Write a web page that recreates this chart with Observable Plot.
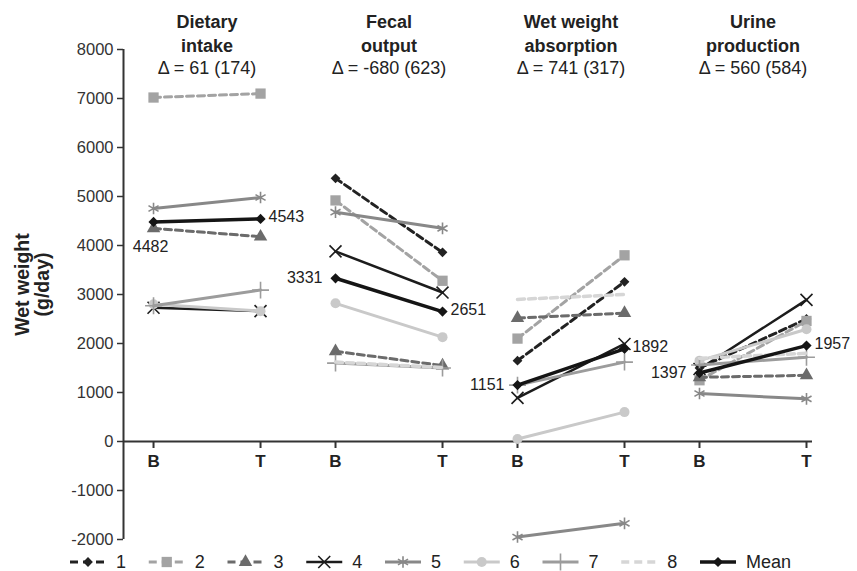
<!DOCTYPE html>
<html><head><meta charset="utf-8">
<script src="https://cdn.jsdelivr.net/npm/d3@7"></script>
<script src="https://cdn.jsdelivr.net/npm/@observablehq/plot@0.6"></script>
<style>
body{margin:0;background:#fff;font-family:"Liberation Sans",Arial,sans-serif}
#chart svg{display:block}
</style>
</head><body><div id="chart"></div>
<script>
// ---- data ----
const panels = ["Dietary intake", "Fecal output", "Wet weight absorption", "Urine production"];
const titleHeads = ["Dietary\nintake", "Fecal\noutput", "Wet weight\nabsorption", "Urine\nproduction"];
const deltaLabels = ["Δ = 61 (174)", "Δ = -680 (623)", "Δ = 741 (317)", "Δ = 560 (584)"];
const timepoints = ["B", "T"];
const seriesNames = ["1", "2", "3", "4", "5", "6", "7", "8", "Mean"];
// values: [intake B, intake T, fecal B, fecal T, absorption B, absorption T, urine B, urine T]
const series1 = [null, null, 5370, 3860, 1650, 3260, 1500, 2500];
const series2 = [7020, 7100, 4920, 3280, 2100, 3800, 1250, 2460];
const series3 = [4350, 4180, 1840, 1550, 2520, 2620, 1310, 1350];
const series4 = [2730, 2660, 3880, 3040, 890, 1990, 1480, 2890];
const series5 = [4755, 4980, 4680, 4350, -1950, -1670, 980, 870];
const series6 = [2800, 2660, 2820, 2130, 50, 600, 1650, 2290];
const series7 = [2770, 3090, 1600, 1500, 1150, 1620, 1560, 1720];
const series8 = [null, null, 1620, 1510, 2900, 3000, 1700, 1800];
const seriesMean = [4482, 4543, 3331, 2651, 1151, 1892, 1397, 1957];
const yTicks = [-2000, -1000, 0, 1000, 2000, 3000, 4000, 5000, 6000, 7000, 8000];

// ---- styles / layout ----
const styles = {
  "1":    {stroke: "#222222", width: 3,   dash: "7,4", symbol: "diamond2", filled: true,  r: 4.4},
  "2":    {stroke: "#a3a3a3", width: 3,   dash: "7,4", symbol: "square",   filled: true,  r: 5.8},
  "3":    {stroke: "#6b6b6b", width: 3,   dash: "7,4", symbol: "triangle", filled: true,  r: 5},
  "4":    {stroke: "#1c1c1c", width: 2.5, dash: null,  symbol: "times",    filled: false, r: 5.5},
  "5":    {stroke: "#888888", width: 3,   dash: null,  symbol: "asterisk", filled: false, r: 5.5},
  "6":    {stroke: "#c9c9c9", width: 3,   dash: null,  symbol: "circle",   filled: true,  r: 5},
  "7":    {stroke: "#9c9c9c", width: 3,   dash: null,  symbol: "plus",     filled: false, r: 5.5},
  "8":    {stroke: "#d6d6d6", width: 3.5, dash: "7,4", symbol: null,       filled: true,  r: 0},
  "Mean": {stroke: "#151515", width: 3.5, dash: null,  symbol: "diamond2", filled: true,  r: 4.6}
};
const SPAN = 0.588;           // distance between B and T within a panel (panel pitch = 1)
const X0 = -0.165, X1 = 3.621; // x extent of axis
const FONT = "Liberation Sans, Arial, sans-serif";

const seriesValues = [series1, series2, series3, series4, series5, series6, series7, series8, seriesMean];
const rows = [];
seriesNames.forEach((name, si) => {
  seriesValues[si].forEach((v, k) => {
    if (v == null) return;
    rows.push({series: name, panel: Math.floor(k / 2), t: timepoints[k % 2], value: v});
  });
});
const xOf = d => d.panel + (d.t === "T" ? SPAN : 0);
const xTickData = [];
panels.forEach((p, i) => timepoints.forEach(t => xTickData.push({panel: i, t})));

const marks = [];
marks.push(Plot.ruleX([X0], {y1: -2000, y2: 8000, stroke: "#333", strokeWidth: 2}));
marks.push(Plot.axisY({ticks: yTicks, tickSize: 6, tickPadding: 4, tickFormat: d => String(d),
  fontSize: 16.5, label: null, color: "#333", strokeWidth: 1.5}));
marks.push(Plot.ruleY([0], {x1: X0, x2: X1, stroke: "#333", strokeWidth: 2}));
marks.push(Plot.ruleX(xTickData, {x: xOf, y1: 0, y2: 0, insetBottom: -7, stroke: "#333", strokeWidth: 2}));
marks.push(Plot.text(xTickData, {x: xOf, y: 0, text: "t", fontWeight: "bold", fontSize: 17,
  lineAnchor: "top", dy: 13, fill: "#222"}));

// titles
marks.push(Plot.text(panels, {x: (d, i) => i + SPAN / 2, frameAnchor: "top", text: (d, i) => titleHeads[i],
  fontWeight: "bold", fontSize: 18, lineAnchor: "bottom", lineHeight: 1.28, dy: 2, fill: "#222"}));
marks.push(Plot.text(panels, {x: (d, i) => i + SPAN / 2, frameAnchor: "top", text: (d, i) => deltaLabels[i],
  fontSize: 18, lineAnchor: "bottom", dy: 24, fill: "#222"}));

// y axis title
marks.push(Plot.text(["Wet weight\n(g/day)"], {frameAnchor: "left", text: d => d, rotate: -90,
  textAnchor: "middle", lineAnchor: "middle",
  fontWeight: "bold", fontSize: 19.5, lineHeight: 1.05, dx: -91, dy: -10, fill: "#222"}));

// series
seriesNames.forEach(name => {
  const st = styles[name];
  const data = rows.filter(r => r.series === name);
  marks.push(Plot.line(data, {x: xOf, y: "value", z: "panel", stroke: st.stroke, strokeWidth: st.width,
    strokeDasharray: st.dash || undefined}));
  if (st.symbol) {
    marks.push(Plot.dot(data, {x: xOf, y: "value", symbol: st.symbol, r: st.r,
      fill: st.filled ? st.stroke : "none", stroke: st.filled ? "none" : st.stroke, strokeWidth: 1.6}));
  }
});

// mean labels
const meanRows = rows.filter(r => r.series === "Mean");
marks.push(Plot.text(meanRows.filter(d => d.t === "T"), {x: xOf, y: "value", text: d => String(d.value),
  textAnchor: "start", dx: 8, dy: -2, fontSize: 16, fill: "#222"}));
marks.push(Plot.text(meanRows.filter(d => d.t === "B" && d.panel > 0), {x: xOf, y: "value", text: d => String(d.value),
  textAnchor: "end", dx: -13, fontSize: 16, fill: "#222"}));
marks.push(Plot.text(meanRows.filter(d => d.t === "B" && d.panel === 0), {x: xOf, y: "value", text: d => String(d.value),
  textAnchor: "middle", dx: -3, dy: 25, fontSize: 16, fill: "#222"}));

const chart = Plot.plot({
  width: 857, height: 548,
  marginLeft: 123, marginRight: 45, marginTop: 49, marginBottom: 9,
  style: {fontFamily: FONT, background: "#fff", color: "#222"},
  x: {type: "linear", domain: [X0, X1], axis: null},
  y: {domain: [-2000, 8000], axis: null},
  marks
});
document.getElementById("chart").appendChild(chart);

// ---- legend ----
const symbolMap = {diamond2: d3.symbolDiamond2, square: d3.symbolSquare, triangle: d3.symbolTriangle,
  times: d3.symbolTimes, asterisk: d3.symbolAsterisk, circle: d3.symbolCircle, plus: d3.symbolPlus};
const legend = d3.select("#chart").append("svg").attr("width", 857).attr("height", 23)
  .style("font-family", FONT);
seriesNames.forEach((name, i) => {
  const st = styles[name];
  const g = legend.append("g").attr("transform", `translate(${70 + i * 78.75},14)`);
  g.append("line").attr("x1", 0).attr("x2", 36).attr("y1", 0).attr("y2", 0)
    .attr("stroke", st.stroke).attr("stroke-width", st.width)
    .attr("stroke-dasharray", st.dash ? "8,5" : null);
  if (st.symbol) {
    g.append("path").attr("transform", "translate(18,0)")
      .attr("d", d3.symbol(symbolMap[st.symbol], Math.PI * st.r * st.r)())
      .attr("fill", st.filled ? st.stroke : "none")
      .attr("stroke", st.filled ? "none" : st.stroke).attr("stroke-width", 1.6);
  }
  g.append("text").attr("x", 46).attr("y", 0).attr("dy", "0.35em").attr("font-size", 18)
    .attr("fill", "#222").text(name);
});
</script></body></html>
